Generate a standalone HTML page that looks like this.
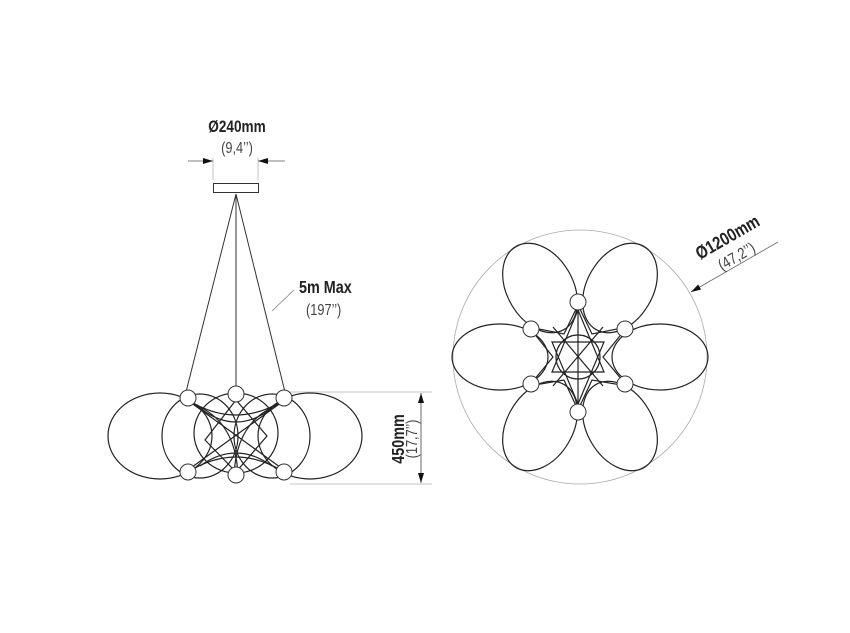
<!DOCTYPE html>
<html><head><meta charset="utf-8"><style>
html,body{margin:0;padding:0;background:#fff;width:850px;height:633px;overflow:hidden}
text{font-family:"Liberation Sans",sans-serif}
</style></head><body>
<svg width="850" height="633" viewBox="0 0 850 633" xmlns="http://www.w3.org/2000/svg">
<defs>
<marker id="ar" markerWidth="10" markerHeight="6" refX="10" refY="3" orient="auto" markerUnits="userSpaceOnUse"><path d="M0,0 L10,3 L0,6z" fill="#111"/></marker>
</defs>
<text transform="translate(237,132) scale(0.8,1)" font-size="17" font-weight="bold" text-anchor="middle" fill="#222">Ø240mm</text>
<text transform="translate(237,153) scale(0.8,1)" font-size="16" text-anchor="middle" fill="#444">(9,4’’)</text>
<line x1="188" y1="161" x2="213" y2="161" stroke="#555" stroke-width="0.8" marker-end="url(#ar)"/>
<line x1="285" y1="161" x2="258" y2="161" stroke="#555" stroke-width="0.8" marker-end="url(#ar)"/>
<line x1="213" y1="158" x2="213" y2="180" stroke="#999" stroke-width="0.6"/>
<line x1="258" y1="158" x2="258" y2="180" stroke="#999" stroke-width="0.6"/>
<rect x="213.5" y="183.5" width="45" height="9" fill="#fff" stroke="#333" stroke-width="1"/>
<g stroke="#333" stroke-width="1" fill="none">
<line x1="236" y1="194" x2="186" y2="392"/>
<line x1="236" y1="194" x2="236" y2="390"/>
<line x1="236" y1="194" x2="285" y2="392"/>
<line x1="272" y1="311" x2="294" y2="290" stroke="#777" stroke-width="0.7"/>
</g>
<text transform="translate(299,293) scale(0.8,1)" font-size="18" font-weight="bold" fill="#222">5m Max</text>
<text transform="translate(306,315) scale(0.8,1)" font-size="16" fill="#444">(197’’)</text>
<g stroke="#222" stroke-width="1.2" fill="none">
<ellipse cx="160" cy="436" rx="52" ry="43"/>
<ellipse cx="310" cy="436" rx="52" ry="43"/>
<ellipse cx="200" cy="436" rx="38" ry="42"/>
<ellipse cx="272" cy="436" rx="38" ry="42"/>
<ellipse cx="236" cy="433" rx="42" ry="40"/>
<path d="M188 400 Q236 430 284 400"/>
<path d="M188 472 Q236 442 284 472"/>
<path d="M190 402 L284 470 M282 402 L188 470"/>
<path d="M236 400 L205 440 L236 472 L267 436 Z"/>
<path d="M193 404 Q236 420 238 476 M280 404 Q236 420 234 476"/>
<path d="M200 408 Q236 436 272 408 M200 466 Q236 440 272 466"/>
</g>
<g stroke="#333" stroke-width="1" fill="#fff">
<circle cx="188" cy="398" r="8"/><circle cx="236" cy="394" r="8"/><circle cx="284" cy="398" r="8"/>
<circle cx="188" cy="472" r="8"/><circle cx="236" cy="475" r="8"/><circle cx="284" cy="472" r="8"/>
</g>
<g stroke="#888" stroke-width="0.6">
<line x1="290" y1="392" x2="432" y2="392"/>
<line x1="290" y1="484" x2="432" y2="484"/>
</g>
<line x1="421" y1="440" x2="421" y2="393" stroke="#444" stroke-width="0.8" marker-end="url(#ar)"/>
<line x1="421" y1="440" x2="421" y2="483" stroke="#444" stroke-width="0.8" marker-end="url(#ar)"/>
<text transform="translate(404,439) rotate(-90) scale(0.8,1)" font-size="18" font-weight="bold" text-anchor="middle" fill="#222">450mm</text>
<text transform="translate(417,439) rotate(-90) scale(0.8,1)" font-size="16" text-anchor="middle" fill="#444">(17,7’’)</text>
<circle cx="580" cy="357" r="127" fill="none" stroke="#aaa" stroke-width="0.8"/>
<g stroke="#222" stroke-width="1.2" fill="none">
<ellipse cx="500" cy="357" rx="48" ry="33"/>
<ellipse cx="660" cy="357" rx="48" ry="33"/>
<ellipse cx="540" cy="288" rx="48" ry="33" transform="rotate(60 540 288)"/>
<ellipse cx="620" cy="288" rx="48" ry="33" transform="rotate(-60 620 288)"/>
<ellipse cx="540" cy="426" rx="48" ry="33" transform="rotate(-60 540 426)"/>
<ellipse cx="620" cy="426" rx="48" ry="33" transform="rotate(60 620 426)"/>
<polygon points="578,305 592,334 627,327 603,357 627,386 592,380 578,410 564,380 529,386 553,357 529,327 564,334"/>
<polygon points="578,310 604,372 552,372"/>
<polygon points="578,404 604,342 552,342"/>
<circle cx="578" cy="357" r="22"/>
<line x1="578" y1="310" x2="578" y2="404"/>
<line x1="553" y1="327" x2="603" y2="386"/>
<line x1="603" y1="327" x2="553" y2="386"/>
</g>
<g stroke="#333" stroke-width="1" fill="#fff">
<circle cx="578" cy="302" r="8"/><circle cx="578" cy="412" r="8"/>
<circle cx="531" cy="329" r="8"/><circle cx="625" cy="329" r="8"/>
<circle cx="531" cy="384" r="8"/><circle cx="625" cy="384" r="8"/>
</g>
<line x1="778" y1="242" x2="691" y2="292" stroke="#666" stroke-width="0.8" marker-end="url(#ar)"/>
<text transform="translate(700,260) rotate(-30) scale(0.82,1)" font-size="18" font-weight="bold" fill="#222">Ø1200mm</text>
<text transform="translate(722,271) rotate(-30) scale(0.82,1)" font-size="16" fill="#444">(47,2’’)</text>
</svg>
</body></html>
